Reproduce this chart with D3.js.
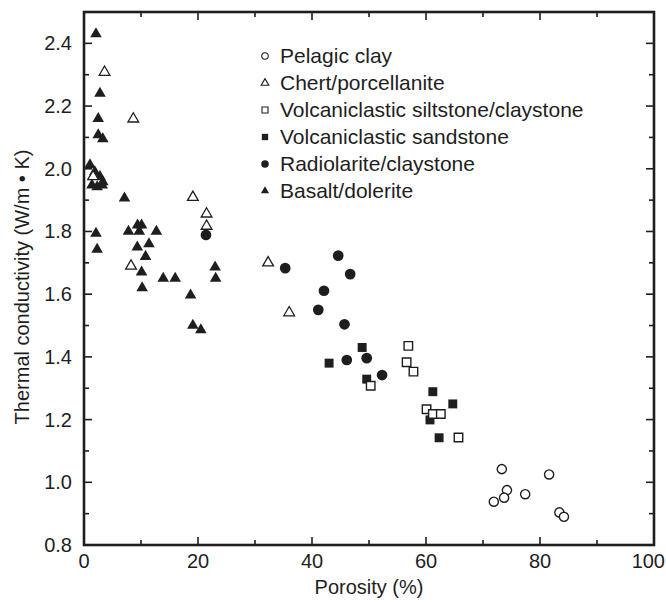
<!DOCTYPE html>
<html>
<head>
<meta charset="utf-8">
<script src="https://cdn.jsdelivr.net/npm/d3@7"></script>
<style>
html,body{margin:0;padding:0;background:#fff;}
svg{display:block;font-family:"Liberation Sans",Arial,Helvetica,sans-serif;}
</style>
</head>
<body>
<svg id="chart" width="666" height="603"></svg>
<script>
// ---- data (porosity %, thermal conductivity W/m·K) ----
const pelagicClay = [[73.3,1.042],[81.6,1.025],[74.2,0.975],[77.4,0.962],[73.7,0.951],[71.9,0.938],[83.4,0.904],[84.2,0.89]];
const chert = [[3.6,2.308],[8.65,2.159],[19.1,1.909],[21.5,1.856],[21.5,1.817],[8.25,1.69],[32.3,1.70],[36.0,1.541],[1.6,1.975]];
const siltstone = [[56.9,1.435],[56.6,1.383],[57.8,1.353],[50.3,1.308],[60.1,1.233],[61.2,1.218],[62.6,1.218],[65.7,1.143]];
const sandstone = [[43.0,1.38],[48.8,1.43],[49.6,1.329],[61.2,1.289],[64.7,1.25],[60.7,1.199],[62.3,1.142]];
const radiolarite = [[21.4,1.789],[35.3,1.683],[44.6,1.723],[46.7,1.664],[42.1,1.611],[41.1,1.55],[45.7,1.504],[46.1,1.39],[49.6,1.396],[52.3,1.342]];
const basalt = [[2.1,2.43],[2.8,2.24],[2.5,2.16],[2.5,2.108],[3.3,2.095],[1.05,2.012],[1.9,1.99],[2.8,1.975],[3.3,1.958],[1.4,1.948],[2.3,1.942],[3.2,1.948],
  [7.1,1.906],[2.1,1.794],[2.3,1.743],[7.8,1.80],[9.4,1.82],[10.1,1.82],[9.7,1.80],[12.7,1.80],[9.35,1.75],[11.4,1.76],[10.8,1.72],[10.1,1.67],
  [13.9,1.65],[16.0,1.65],[10.2,1.62],[18.7,1.597],[23.0,1.686],[23.1,1.65],[19.1,1.50],[20.5,1.486]];

const seriesNames = ["Pelagic clay","Chert/porcellanite","Volcaniclastic siltstone/claystone","Volcaniclastic sandstone","Radiolarite/claystone","Basalt/dolerite"];
const xTicks = [0,20,40,60,80,100];
const yTicks = [0.8,1.0,1.2,1.4,1.6,1.8,2.0,2.2,2.4];

const ink = "#1e1e1e";
const svg = d3.select("#chart");
const L=84, R=654, T=12, B=545;
const x = d3.scaleLinear().domain([0,100]).range([L,R]);
const y = d3.scaleLinear().domain([0.8,2.5]).range([B,T]);

// marker definitions
const shapes = {
  "Pelagic clay": {type:d3.symbolCircle, size:66, fill:"#fff", stroke:ink, sw:1.4},
  "Chert/porcellanite": {type:d3.symbolTriangle, size:50, fill:"#fff", stroke:ink, sw:1.3},
  "Volcaniclastic siltstone/claystone": {type:d3.symbolSquare, size:72, fill:"#fff", stroke:ink, sw:1.4},
  "Volcaniclastic sandstone": {type:d3.symbolSquare, size:80, fill:ink, stroke:ink, sw:0},
  "Radiolarite/claystone": {type:d3.symbolCircle, size:90, fill:ink, stroke:ink, sw:0},
  "Basalt/dolerite": {type:d3.symbolTriangle, size:58, fill:ink, stroke:ink, sw:0}
};
const dataBy = {
  "Pelagic clay": pelagicClay, "Chert/porcellanite": chert,
  "Volcaniclastic siltstone/claystone": siltstone, "Volcaniclastic sandstone": sandstone,
  "Radiolarite/claystone": radiolarite, "Basalt/dolerite": basalt
};
const drawOrder = ["Basalt/dolerite","Radiolarite/claystone","Volcaniclastic sandstone","Volcaniclastic siltstone/claystone","Chert/porcellanite","Pelagic clay"];

// ticks (inward, all four sides)
const tk = svg.append("g").attr("stroke",ink).attr("stroke-width",1.6);
d3.range(0,101,10).forEach(v=>{
  const major = v%20===0, len = major?8:5;
  if(v===0||v===100) return;
  tk.append("line").attr("x1",x(v)).attr("x2",x(v)).attr("y1",B).attr("y2",B-len);
  tk.append("line").attr("x1",x(v)).attr("x2",x(v)).attr("y1",T).attr("y2",T+len);
});
d3.range(9,25).map(d=>d/10).forEach(v=>{
  const major = Math.round(v*10)%2===0, len = major?8:5;
  tk.append("line").attr("y1",y(v)).attr("y2",y(v)).attr("x1",L).attr("x2",L+len);
  tk.append("line").attr("y1",y(v)).attr("y2",y(v)).attr("x1",R).attr("x2",R-len);
});

// frame
svg.append("rect").attr("x",L).attr("y",T).attr("width",R-L).attr("height",B-T)
  .attr("fill","none").attr("stroke",ink).attr("stroke-width",2.6);

// tick labels
svg.append("g").selectAll("text").data(xTicks).join("text")
  .attr("x",d=>d===100 ? 665 : x(d)).attr("y",568)
  .attr("text-anchor",d=>d===100 ? "end" : "middle")
  .attr("font-size",20).attr("fill",ink).text(d=>d);
svg.append("g").selectAll("text").data(yTicks).join("text")
  .attr("x",72).attr("y",d=>y(d)+7).attr("text-anchor","end")
  .attr("font-size",20).attr("fill",ink).text(d=>d.toFixed(1));

// axis titles
svg.append("text").attr("x",(L+R)/2).attr("y",594).attr("text-anchor","middle")
  .attr("font-size",20).attr("fill",ink).text("Porosity (%)");
svg.append("text").attr("transform","translate(29,287) rotate(-90)").attr("text-anchor","middle")
  .attr("font-size",20).attr("fill",ink).text("Thermal conductivity (W/m \u2022 K)");

// data marks
const marks = svg.append("g");
drawOrder.forEach(name=>{
  const s = shapes[name];
  const sym = d3.symbol().type(s.type).size(s.size);
  marks.append("g").selectAll("path").data(dataBy[name]).join("path")
    .attr("transform",d=>`translate(${x(d[0])},${y(d[1])})`)
    .attr("d",sym).attr("fill",s.fill).attr("stroke",s.stroke).attr("stroke-width",s.sw);
});

// legend
const lg = svg.append("g");
seriesNames.forEach((name,i)=>{
  const s = shapes[name];
  const yy = 56 + i*27;
  lg.append("path").attr("transform",`translate(265,${yy})`)
    .attr("d",d3.symbol().type(s.type).size(s.size*0.5)())
    .attr("fill",s.fill).attr("stroke",s.stroke).attr("stroke-width",s.sw?1.1:0);
  lg.append("text").attr("x",280).attr("y",yy+7).attr("font-size",21).attr("fill",ink).text(name);
});
</script>
</body>
</html>
